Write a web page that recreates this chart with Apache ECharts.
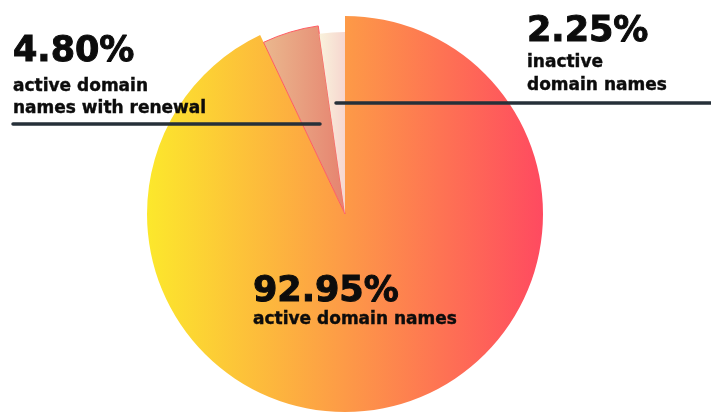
<!DOCTYPE html>
<html>
<head>
<meta charset="utf-8">
<script src="https://cdn.jsdelivr.net/npm/echarts@6/dist/echarts.min.js"></script>
<style>
  html, body { margin: 0; padding: 0; background: #fff; }
  #domainPie { width: 711px; height: 417px; }
</style>
</head>
<body>
<div id="domainPie"></div>
<script>
// slice data (percent of domain names)
var names = ['active domain names', 'active domain\nnames with renewal', 'inactive\ndomain names'];
var shares = [92.95, 4.80, 2.25];
// each slice drawn with its own radius
var radii = [198, 190, 182];

var fills = [
  { type: 'linear', x: 0, y: 0, x2: 1, y2: 0, colorStops: [
    { offset: 0, color: '#fce82c' }, { offset: 0.5, color: '#fd9a47' }, { offset: 1, color: '#ff4a60' }] },
  { type: 'linear', x: 0, y: 0, x2: 1, y2: 0, colorStops: [
    { offset: 0, color: '#eab88e' }, { offset: 1, color: '#e6826f' }] },
  { type: 'linear', x: 0, y: 0, x2: 1, y2: 0, colorStops: [
    { offset: 0, color: '#f9f2dc' }, { offset: 1, color: '#f6d6cf' }] }
];

// where each label sits, gap under the big number, and its leader line
var labelSpots = [
  { x: 253, y: 274, gap: 35, sub: 22, line: null },
  { x: 13, y: 27, gap: 49, sub: 22, line: [[320, 124], [13, 124]] },
  { x: 527, y: 13, gap: 38, sub: 23, line: [[336, 103], [711, 103]] }
];

var chartDom = document.getElementById('domainPie');
var myChart = echarts.init(chartDom);

// thin outline of the same colour makes the bold face a bit heavier
function richFor(s) {
  return {
    p: { fontFamily: 'DejaVu Sans', fontWeight: 'bold', fontSize: 35, lineHeight: s.gap, color: '#0c0c0c',
         textBorderColor: '#0c0c0c', textBorderWidth: 1 },
    t: { fontFamily: 'DejaVu Sans', fontWeight: 'bold', fontSize: 17, lineHeight: s.sub, color: '#0c0c0c',
         textBorderColor: '#0c0c0c', textBorderWidth: 0.4 }
  };
}

function sliceSeries(k) {
  return {
    type: 'pie',
    center: [345, 214],
    radius: [0, radii[k]],
    startAngle: 90,
    clockwise: true,
    silent: true,
    z: 2 + k,
    label: { show: false },
    labelLine: { show: false },
    data: shares.map(function (v, i) {
      var mine = i === k;
      return {
        name: names[i],
        value: v,
        itemStyle: mine ? {
          color: fills[i],
          borderColor: i === 1 ? '#ff5c62' : 'rgba(0,0,0,0)',
          borderWidth: i === 1 ? 1 : 0
        } : { color: 'rgba(0,0,0,0)', borderWidth: 0 }
      };
    })
  };
}

// transparent top layer that only carries the labels and leader lines
var labelSeries = {
  type: 'pie',
  center: [345, 214],
  radius: [0, radii[0]],
  startAngle: 90,
  clockwise: true,
  silent: true,
  z: 10,
  itemStyle: { color: 'rgba(0,0,0,0)', borderWidth: 0 },
  data: shares.map(function (v, i) {
    var s = labelSpots[i];
    return {
      name: names[i],
      value: v,
      labelLine: { show: s.line !== null },
      label: { rich: richFor(s) }
    };
  }),
  label: {
    show: true,
    position: 'outside',
    align: 'left',
    verticalAlign: 'top',
    overflow: 'none',
    fontFamily: 'DejaVu Sans',
    fontWeight: 'bold',
    formatter: function (p) {
      var lines = p.name.split('\n').map(function (s) { return '{t|' + s + '}'; });
      return '{p|' + p.value.toFixed(2) + '%}\n' + lines.join('\n');
    },
    rich: richFor(labelSpots[0])
  },
  labelLine: {
    lineStyle: { color: '#263039', width: 3.5, cap: 'round' }
  },
  labelLayout: function (params) {
    var s = labelSpots[params.dataIndex];
    var out = { x: s.x, y: s.y, align: 'left', verticalAlign: 'top' };
    if (s.line) out.labelLinePoints = s.line;
    return out;
  }
};

var option = {
  backgroundColor: '#ffffff',
  animation: false,
  series: [sliceSeries(0), sliceSeries(1), sliceSeries(2), labelSeries]
};

option && myChart.setOption(option);
</script>
</body>
</html>
